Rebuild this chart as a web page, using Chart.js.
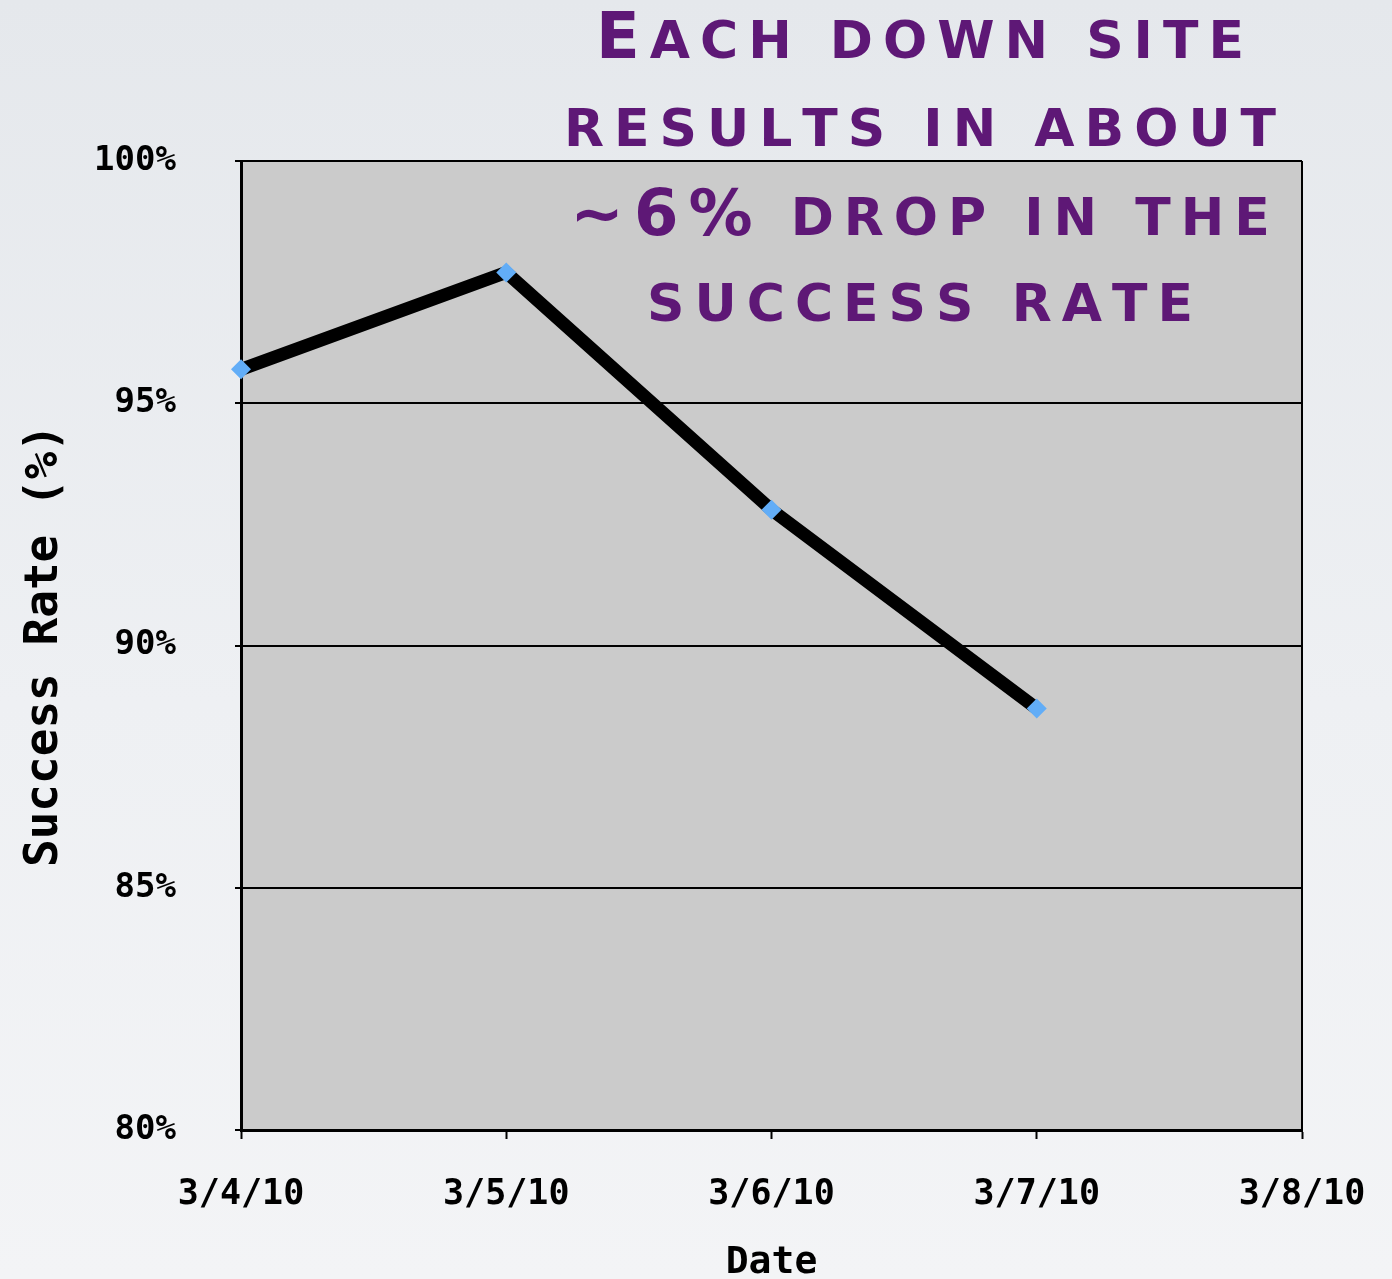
<!DOCTYPE html>
<html lang="en">
<head>
    <meta charset="UTF-8">
    <title>Success Rate</title>
    <style>
        html, body {
            margin: 0;
            padding: 0;
        }

        body {
            width: 1392px;
            height: 1279px;
            overflow: hidden;
            background: linear-gradient(180deg, #e5e8ec 0%, #eef0f3 55%, #f3f4f6 100%);
        }

        #chart {
            display: block;
        }
    </style>
</head>
<body>
    <canvas id="chart" width="1392" height="1279"></canvas>

    <script src="https://cdn.jsdelivr.net/npm/chart.js@4/dist/chart.umd.min.js"></script>
    <script>
        const dates = ["3/4/10", "3/5/10", "3/6/10", "3/7/10", "3/8/10"];
        const success_rate = [95.7, 97.7, 92.8, 88.7, null];
        const y_ticks = [80, 85, 90, 95, 100];
        const title_lines = [
            [["E", true], ["ACH DOWN SITE", false]],
            [["RESULTS IN ABOUT", false]],
            [["~6%", true], [" DROP IN THE", false]],
            [["SUCCESS RATE", false]]
        ];

        const mono = "'DejaVu Sans Mono', monospace";

        // grey plot background and a frame round it
        const plot_frame = {
            id: "plot_frame",
            beforeDraw(chart) {
                const { ctx, chartArea: a } = chart;
                ctx.save();
                ctx.fillStyle = "#cbcbcb";
                ctx.fillRect(a.left, a.top, a.right - a.left, a.bottom - a.top);
                ctx.restore();
            },
            afterDatasetsDraw(chart) {
                const { ctx, chartArea: a } = chart;
                ctx.save();
                ctx.strokeStyle = "#000";
                ctx.lineWidth = 2;
                ctx.beginPath();
                ctx.moveTo(a.right, a.top);
                ctx.lineTo(a.right, a.bottom);
                ctx.stroke();
                ctx.restore();
            }
        };

        // small caps headline, drawn letter by letter with wide spacing
        const headline = {
            id: "headline",
            afterDraw(chart) {
                const ctx = chart.ctx;
                const big = "bold 64px 'DejaVu Sans', sans-serif";
                const small = "bold 52px 'DejaVu Sans', sans-serif";
                const spacing = 10;
                const center_x = 920;
                const baselines = [58, 146, 235, 321];
                ctx.save();
                ctx.fillStyle = "#5e1876";
                ctx.textBaseline = "alphabetic";
                ctx.textAlign = "left";
                title_lines.forEach((line, i) => {
                    const glyphs = [];
                    line.forEach(([text, is_big]) => {
                        for (const ch of text) glyphs.push([ch, is_big ? big : small]);
                    });
                    let total = 0;
                    glyphs.forEach(([ch, font], k) => {
                        ctx.font = font;
                        total += ctx.measureText(ch).width + (k < glyphs.length - 1 ? spacing : 0);
                    });
                    let x = center_x - total / 2;
                    glyphs.forEach(([ch, font]) => {
                        ctx.font = font;
                        ctx.fillText(ch, x, baselines[i]);
                        x += ctx.measureText(ch).width + spacing;
                    });
                });
                ctx.restore();
            }
        };

        new Chart(document.getElementById("chart"), {
            type: "line",
            data: {
                labels: dates,
                datasets: [{
                    data: success_rate,
                    borderColor: "#000",
                    borderWidth: 13,
                    tension: 0,
                    pointStyle: "rectRot",
                    pointRadius: 10,
                    pointBackgroundColor: "#62adf7",
                    pointBorderColor: "#62adf7",
                    pointBorderWidth: 0
                }]
            },
            options: {
                responsive: false,
                animation: false,
                events: [],
                layout: {
                    padding: { top: 161, right: 0, left: 0, bottom: 0 }
                },
                plugins: {
                    legend: { display: false },
                    tooltip: { enabled: false }
                },
                scales: {
                    x: {
                        type: "category",
                        offset: false,
                        afterFit: s => {
                            s.height = 149;
                            s.paddingLeft = 0;
                            s.paddingRight = 90;
                        },
                        grid: {
                            drawOnChartArea: false,
                            drawTicks: true,
                            tickLength: 9,
                            tickWidth: 2,
                            tickColor: "#000"
                        },
                        border: { color: "#000", width: 3 },
                        ticks: {
                            color: "#000",
                            padding: 35,
                            maxRotation: 0,
                            autoSkip: false,
                            font: { family: mono, size: 35, weight: "bold" }
                        },
                        title: {
                            display: true,
                            text: "Date",
                            color: "#000",
                            padding: { top: 0, bottom: -7 },
                            font: { family: mono, size: 38, weight: "bold" }
                        }
                    },
                    y: {
                        min: y_ticks[0],
                        max: y_ticks[y_ticks.length - 1],
                        afterFit: s => { s.width = 241; },
                        afterBuildTicks: s => { s.ticks = y_ticks.map(v => ({ value: v })); },
                        grid: {
                            color: "#000",
                            lineWidth: 2,
                            drawTicks: true,
                            tickLength: 6,
                            tickColor: "#000"
                        },
                        border: { color: "#000", width: 3 },
                        ticks: {
                            color: "#000",
                            padding: 59,
                            font: { family: mono, size: 34, weight: "bold" },
                            callback: v => v + "%"
                        },
                        title: {
                            display: true,
                            text: "Success Rate (%)",
                            color: "#000",
                            padding: { top: 17, bottom: 0 },
                            font: { family: mono, size: 46, weight: "bold" }
                        }
                    }
                }
            },
            plugins: [plot_frame, headline]
        });
    </script>
</body>
</html>
